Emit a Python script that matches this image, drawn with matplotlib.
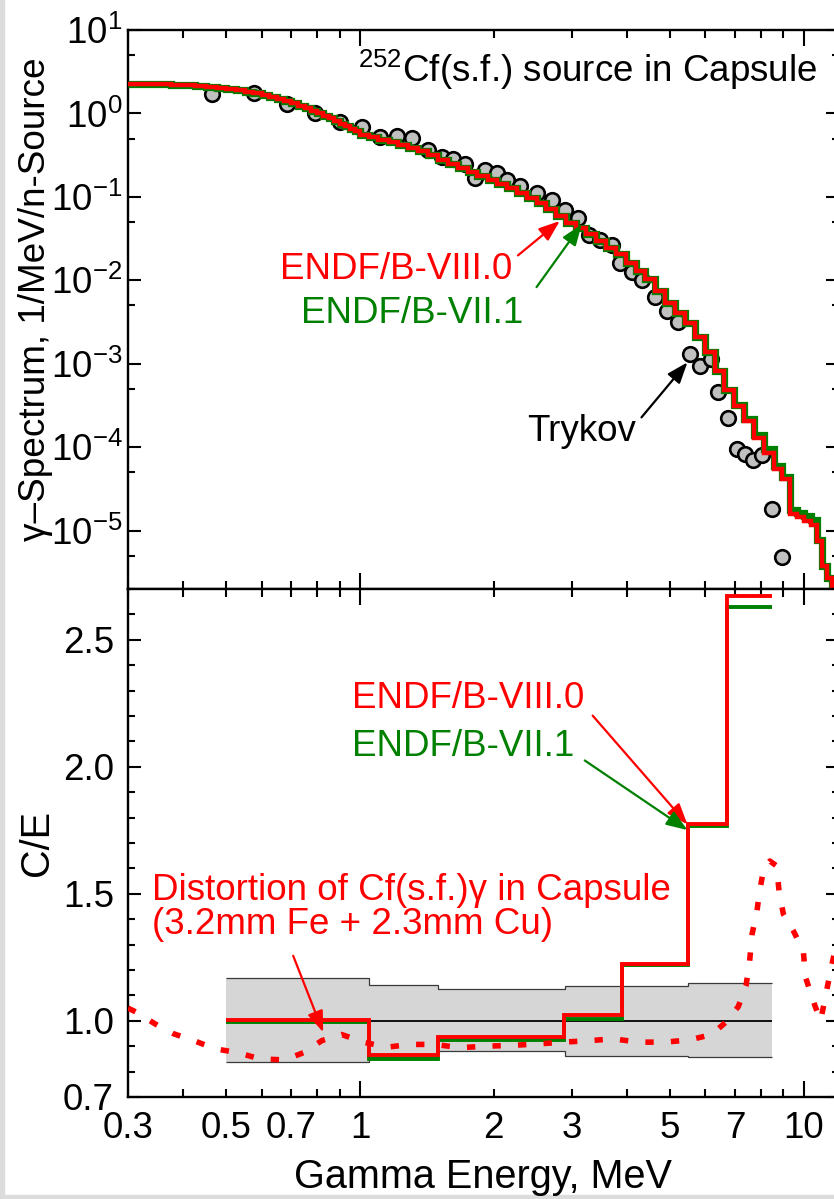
import numpy as np
import matplotlib
matplotlib.use('Agg')
import matplotlib.pyplot as plt
from matplotlib.ticker import FixedLocator, FuncFormatter, LogFormatterSciNotation, MultipleLocator, NullFormatter
from matplotlib.patches import Rectangle

plt.rcParams['font.family'] = ['Liberation Sans', 'DejaVu Sans']
plt.rcParams['mathtext.fontset'] = 'custom'
plt.rcParams['mathtext.rm'] = 'Liberation Sans'
plt.rcParams['mathtext.it'] = 'Liberation Sans:italic'
plt.rcParams['mathtext.bf'] = 'Liberation Sans:bold'
plt.rcParams['axes.unicode_minus'] = False

RED = '#ff0000'
GREEN = '#008000'
FS = 26.5      # text size
FS_LAB = 28.5  # axis label size

# ---- top panel: 252Cf(s.f.) gamma spectrum, group edges in MeV ----
spec_edges = [0.300, 0.325, 0.350, 0.375, 0.400, 0.425, 0.450, 0.475, 0.500, 0.525,
              0.550, 0.575, 0.600, 0.625, 0.650, 0.675, 0.700, 0.725, 0.750, 0.775,
              0.800, 0.825, 0.850, 0.875, 0.900, 0.925, 0.950, 0.975,
              1.00, 1.05, 1.10, 1.16, 1.22, 1.28,
              1.35, 1.42, 1.50, 1.58, 1.66, 1.75, 1.84, 1.94, 2.04, 2.15,
              2.26, 2.38, 2.50, 2.63, 2.77, 2.92, 3.07, 3.23, 3.40, 3.58,
              3.77, 3.97, 4.18, 4.40, 4.63, 4.87, 5.13, 5.40, 5.68, 5.98,
              6.30, 6.63, 6.98, 7.35, 7.74, 8.15, 8.58, 8.95, 9.30, 9.65,
              10.0, 10.4, 10.7, 11.0, 11.3, 11.6, 12.0]
spec_viii = [2.279, 2.261, 2.236, 2.199, 2.163, 2.121, 2.069, 2.024, 1.968, 1.894,
             1.822, 1.767, 1.677, 1.573, 1.481, 1.397, 1.322, 1.240, 1.161, 1.077,
             1.000, 0.936, 0.873, 0.813, 0.752, 0.698, 0.652, 0.608,
             0.552, 0.516, 0.479, 0.455, 0.421, 0.388,
             0.359, 0.320, 0.280, 0.250, 0.222, 0.199, 0.180, 0.159, 0.143, 0.127,
             0.112, 0.0975, 0.0849, 0.0718, 0.0585, 0.0487, 0.0419, 0.0364, 0.0293, 0.0246,
             0.0205, 0.0160, 0.0130, 0.01025, 0.0075, 0.00528, 0.00401, 0.00305, 0.00212, 0.0014,
             0.00083, 0.00049, 0.000315, 0.000208, 0.00013, 8.6e-5, 5.5e-5, 4.2e-5, 1.59e-5, 1.46e-5,
             1.31e-5, 1.17e-5, 7.5e-6, 3.8e-6, 2.7e-6, 1.0e-6]
spec_vii = [2.279, 2.261, 2.236, 2.199, 2.163, 2.121, 2.069, 2.024, 1.968, 1.894,
            1.822, 1.767, 1.677, 1.573, 1.481, 1.397, 1.322, 1.240, 1.161, 1.077,
            1.000, 0.936, 0.873, 0.813, 0.752, 0.698, 0.652, 0.608,
            0.552, 0.516, 0.479, 0.455, 0.421, 0.388,
            0.359, 0.320, 0.280, 0.250, 0.222, 0.199, 0.180, 0.159, 0.143, 0.127,
            0.112, 0.0975, 0.0849, 0.0718, 0.0585, 0.0487, 0.0419, 0.0364, 0.0293, 0.0246,
            0.0205, 0.0160, 0.0130, 0.01025, 0.0075, 0.00528, 0.00401, 0.00305, 0.00212, 0.0014,
            0.00083, 0.00049, 0.000320, 0.000215, 0.00014, 9.5e-5, 6.0e-5, 4.4e-5, 1.75e-5, 1.65e-5,
            1.5e-5, 1.35e-5, 7.8e-6, 3.8e-6, 2.7e-6, 1.0e-6]

# Trykov measurement
trykov_e = [0.463, 0.576, 0.683, 0.792, 0.901, 1.008, 1.109, 1.210, 1.307, 1.426,
            1.528, 1.623, 1.724, 1.817, 1.913, 2.033, 2.141, 2.293, 2.500, 2.705,
            2.905, 3.105, 3.282, 3.484, 3.693, 3.855, 4.096, 4.314, 4.623, 4.911,
            5.217, 5.545, 5.830, 6.183, 6.420, 6.763, 7.063, 7.375, 7.687, 8.041,
            8.469, 8.92]
trykov_y = [1.728, 1.777, 1.311, 1.022, 0.793, 0.690, 0.519, 0.541, 0.512, 0.363,
            0.301, 0.283, 0.248, 0.1686, 0.2086, 0.192, 0.158, 0.134, 0.1114, 0.0910,
            0.0704, 0.0564, 0.0346, 0.0305, 0.0262, 0.0162, 0.01254, 0.00997, 0.00623, 0.00435,
            0.00321, 0.001326, 0.000938, 0.001145, 0.000455, 0.000226, 9.5e-5, 8.29e-5, 7.12e-5, 8.13e-5,
            1.81e-5, 4.85e-6]

# ---- bottom panel: C/E ----
unc_edges = [0.5, 1.05, 1.5, 2.9, 5.5, 8.5]
unc_hi = [1.168, 1.142, 1.125, 1.136, 1.148]
unc_lo = [0.837, 0.858, 0.882, 0.863, 0.857]

ce_edges = [0.5, 1.05, 1.5, 2.88, 3.9, 5.5, 6.7, 8.5]
ce_viii = [1.005, 0.866, 0.935, 1.022, 1.223, 1.773, 2.673]
ce_vii = [0.997, 0.850, 0.926, 1.009, 1.219, 1.768, 2.631]

# distortion of Cf(s.f.) gamma spectrum by capsule
dist_e = [0.300, 0.3165, 0.345, 0.380, 0.425, 0.471, 0.532, 0.595, 0.677, 0.752,
          0.820, 0.909, 1.017, 1.149, 1.296, 1.476, 1.681, 1.913, 2.197, 2.523,
          2.872, 3.297, 3.724, 4.239, 4.869, 5.545, 6.205, 6.709, 7.123, 7.413,
          7.55, 7.65, 7.84, 7.97, 8.14, 8.39, 8.69, 8.80, 9.00, 9.48,
          9.98, 10.10, 10.30, 10.60, 10.92, 11.17, 11.46, 12.0]
dist_ce = [1.050, 1.030, 0.988, 0.949, 0.920, 0.890, 0.874, 0.850, 0.846, 0.877,
           0.922, 0.946, 0.916, 0.896, 0.907, 0.907, 0.894, 0.900, 0.903, 0.909,
           0.916, 0.922, 0.929, 0.916, 0.916, 0.925, 0.946, 0.998, 1.056, 1.138,
           1.230, 1.341, 1.427, 1.518, 1.604, 1.629, 1.610, 1.511, 1.420, 1.354,
           1.276, 1.171, 1.125, 1.060, 1.001, 1.086, 1.184, 1.350]

xtick_vals = [0.3, 0.5, 0.7, 1, 2, 3, 5, 7, 10]
xtick_text = ['0.3', '0.5', '0.7', '1', '2', '3', '5', '7', '10']
x_minor = [0.3, 0.4, 0.5, 0.6, 0.7, 0.8, 0.9, 2, 3, 4, 5, 6, 7, 8, 9]
y1_major = [1e-5, 1e-4, 1e-3, 1e-2, 1e-1, 1e0, 1e1]
y1_minor = [5e-6, 5e-5, 5e-4, 5e-3, 5e-2, 5e-1, 5e0]
y2_major = [0.7, 1.0, 1.5, 2.0, 2.5]

W, H = 834, 1199
fig = plt.figure(figsize=(W / 100, H / 100), dpi=100)
# right spine sits just outside the picture, like the cropped original
ax1 = fig.add_axes([128 / W, 1 - 589 / H, 710.8 / W, 559 / H])
ax2 = fig.add_axes([128 / W, 1 - 1097 / H, 710.8 / W, 508 / H])

# light frame strips of the screenshot
fig.patches.append(Rectangle((0, 0), 4 / W, 1, transform=fig.transFigure,
                             color='#dcdcdc', zorder=-5))
fig.patches.append(Rectangle((0, 0), 1, 4 / H, transform=fig.transFigure,
                             color='#dcdcdc', zorder=-5))

lab = dict(zip(xtick_vals, xtick_text))


def xfmt(v, pos):
    for k, t in lab.items():
        if abs(v - k) < 1e-6 * k:
            return t
    return ''


for ax in (ax1, ax2):
    ax.set_xscale('log')
    ax.set_xlim(0.3, 12)
    ax.xaxis.set_major_locator(FixedLocator([1, 10]))
    ax.xaxis.set_minor_locator(FixedLocator(x_minor))
    ax.tick_params(which='both', direction='in', top=True, right=True,
                   width=1.5, labelsize=FS)
    ax.xaxis.set_tick_params(which='major', length=11.5)
    ax.xaxis.set_tick_params(which='minor', length=5.8)
    ax.yaxis.set_tick_params(which='major', length=9.4)
    ax.yaxis.set_tick_params(which='minor', length=5)
    for s in ax.spines.values():
        s.set_linewidth(1.7)

# ---------------- top panel ----------------
ax1.set_yscale('log')
ax1.set_ylim(2e-6, 10)
ax1.yaxis.set_major_locator(FixedLocator(y1_major))
ax1.yaxis.set_minor_locator(FixedLocator(y1_minor))
ax1.yaxis.set_major_formatter(LogFormatterSciNotation())
ax1.yaxis.set_minor_formatter(NullFormatter())
ax1.tick_params(axis='x', which='both', labelbottom=False)
ax1.tick_params(axis='y', which='major', pad=4)

ax1.plot(trykov_e, trykov_y, 'o', ms=10.5, mfc='#c0c0c0', mec='black',
         mew=1.9, zorder=2)
ax1.stairs(spec_vii, spec_edges, baseline=None, color=GREEN, lw=5.2, zorder=3)
ax1.stairs(spec_viii, spec_edges, baseline=None, color=RED, lw=3.2, zorder=4)

ax1.text(0.99, 2.39, '$^{252}$Cf(s.f.) source in Capsule', fontsize=FS,
         ha='left', va='baseline')
ax1.text(2.2, 0.01045, 'ENDF/B-VIII.0', color=RED, fontsize=FS,
         ha='right', va='baseline')
ax1.text(2.33, 0.00306, 'ENDF/B-VII.1', color=GREEN, fontsize=FS,
         ha='right', va='baseline')
ax1.text(2.375, 1.2e-4, 'Trykov', color='black', fontsize=FS,
         ha='left', va='baseline')

arrow_kw = dict(arrowstyle='-|>,head_length=0.8,head_width=0.3',
                mutation_scale=16, shrinkA=0, shrinkB=0, lw=1.6)
ax1.annotate('', xy=(2.82, 0.0514), xytext=(2.27, 0.0199),
             arrowprops=dict(color=RED, **arrow_kw), zorder=6)
ax1.annotate('', xy=(3.16, 0.0469), xytext=(2.50, 0.00829),
             arrowprops=dict(color=GREEN, **arrow_kw), zorder=6)
ax1.annotate('', xy=(5.47, 1.04e-3), xytext=(4.31, 2.28e-4),
             arrowprops=dict(color='black', **arrow_kw), zorder=6)

ax1.set_ylabel('\u03b3\u2013Spectrum, 1/MeV/n-Source', fontsize=26.6)
ax1.yaxis.set_label_coords(-0.106, 0.518)

# ---------------- bottom panel ----------------
ax2.set_ylim(0.7, 2.7)
ax2.yaxis.set_major_locator(FixedLocator(y2_major))
ax2.yaxis.set_minor_locator(MultipleLocator(0.1))
ax2.yaxis.set_major_formatter(FuncFormatter(lambda v, p: f'{v:.1f}'))
ax2.xaxis.set_major_formatter(FuncFormatter(xfmt))
ax2.xaxis.set_minor_formatter(FuncFormatter(xfmt))
ax2.tick_params(axis='y', which='major', pad=10)
ax2.tick_params(axis='x', which='both', pad=10)

ax2.stairs(unc_hi, unc_edges, baseline=unc_lo, fill=True, color='#d6d6d6',
           lw=0, zorder=1)
ax2.stairs(unc_hi, unc_edges, baseline=None, color='#3a3a3a', lw=0.9, zorder=2)
ax2.stairs(unc_lo, unc_edges, baseline=None, color='#3a3a3a', lw=0.9, zorder=2)
ax2.hlines(1.0, unc_edges[0], unc_edges[-1], color='black', lw=1.3, zorder=2)

ax2.stairs(ce_vii, ce_edges, baseline=None, color=GREEN, lw=2.8, zorder=3)
ax2.stairs(ce_viii, ce_edges, baseline=None, color=RED, lw=2.8, zorder=4)
ax2.plot(dist_e, dist_ce, color=RED, lw=4.0, linestyle=(0, (1.5, 3.1)),
         dash_capstyle='butt', zorder=5)

ax2.text(0.958, 2.232, 'ENDF/B-VIII.0', color=RED, fontsize=FS,
         ha='left', va='baseline')
ax2.text(0.958, 2.042, 'ENDF/B-VII.1', color=GREEN, fontsize=FS,
         ha='left', va='baseline')
ax2.text(0.339, 1.477, 'Distortion of Cf(s.f.)\u03b3 in Capsule', color=RED,
         fontsize=FS, ha='left', va='baseline')
ax2.text(0.339, 1.341, '(3.2mm Fe + 2.3mm Cu)', color=RED,
         fontsize=FS, ha='left', va='baseline')

ax2.annotate('', xy=(5.47, 1.773), xytext=(3.345, 2.2015),
             arrowprops=dict(color=RED, **arrow_kw), zorder=6)
ax2.annotate('', xy=(5.47, 1.751), xytext=(3.21, 2.025),
             arrowprops=dict(color=GREEN, **arrow_kw), zorder=6)
ax2.annotate('', xy=(0.826, 0.955), xytext=(0.707, 1.256),
             arrowprops=dict(color=RED, **arrow_kw), zorder=6)

ax2.set_ylabel('C/E', fontsize=FS_LAB)
ax2.yaxis.set_label_coords(-0.101, 0.5)
ax2.set_xlabel('Gamma Energy, MeV', fontsize=FS_LAB)
ax2.xaxis.set_label_coords(0.5, -0.120)

fig.savefig('out.png', dpi=100)
